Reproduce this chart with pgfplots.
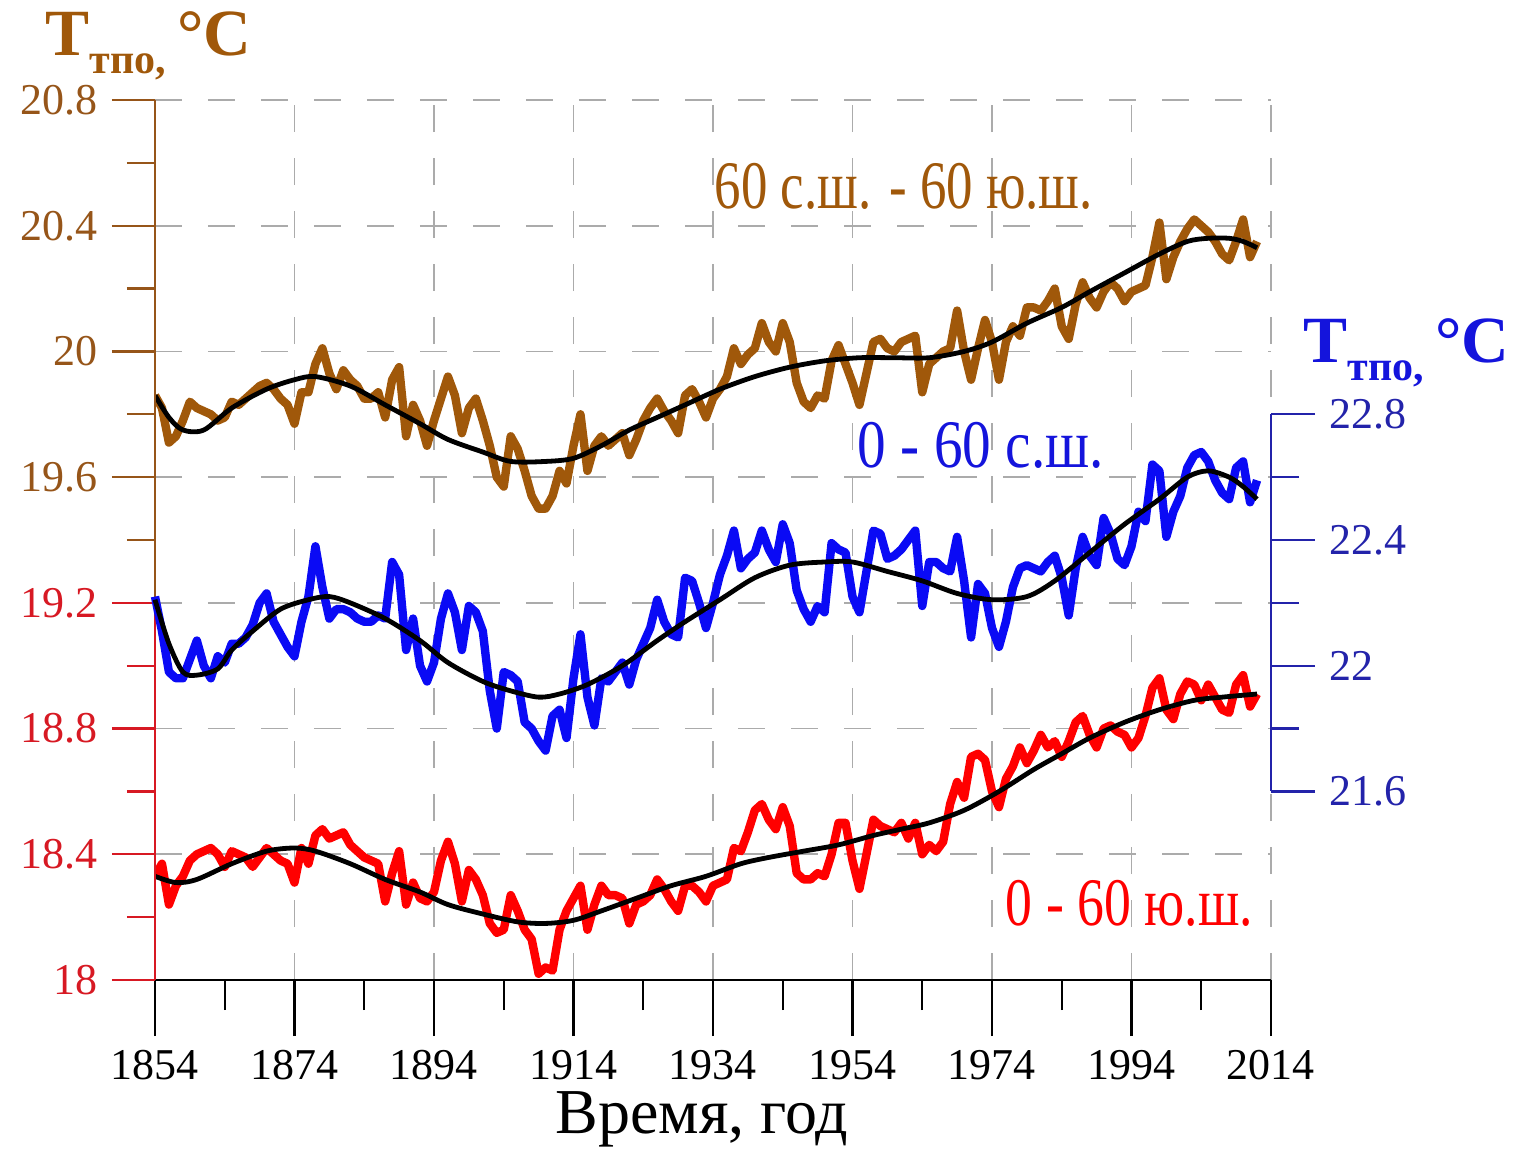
\documentclass[border=0pt]{standalone}
\usepackage{pgfplots}
\pgfplotsset{compat=1.18}
\usepackage{pgfplotstable}
\usepackage{graphicx}
\usepackage{fontspec}
\setmainfont{Liberation Serif}
\definecolor{brownL}{RGB}{160,88,10}
\definecolor{brownT}{RGB}{150,85,25}
\definecolor{redL}{RGB}{255,0,0}
\definecolor{redT}{RGB}{215,25,35}
\definecolor{blueL}{RGB}{10,10,245}
\definecolor{blueT}{RGB}{35,35,170}
\definecolor{blueA}{RGB}{20,20,220}

\pgfplotstableread{
yr v
1854 19.86
1855 19.82
1856 19.71
1857 19.73
1858 19.78
1859 19.84
1860 19.82
1861 19.81
1862 19.80
1863 19.78
1864 19.79
1865 19.84
1866 19.83
1867 19.85
1868 19.87
1869 19.89
1870 19.90
1871 19.88
1872 19.85
1873 19.83
1874 19.77
1875 19.87
1876 19.87
1877 19.96
1878 20.01
1879 19.93
1880 19.88
1881 19.94
1882 19.91
1883 19.89
1884 19.85
1885 19.85
1886 19.87
1887 19.79
1888 19.91
1889 19.95
1890 19.73
1891 19.83
1892 19.78
1893 19.70
1894 19.78
1895 19.85
1896 19.92
1897 19.86
1898 19.74
1899 19.82
1900 19.85
1901 19.78
1902 19.70
1903 19.60
1904 19.57
1905 19.73
1906 19.69
1907 19.62
1908 19.54
1909 19.50
1910 19.50
1911 19.54
1912 19.62
1913 19.58
1914 19.70
1915 19.80
1916 19.62
1917 19.70
1918 19.73
1919 19.70
1920 19.72
1921 19.74
1922 19.67
1923 19.72
1924 19.78
1925 19.82
1926 19.85
1927 19.81
1928 19.78
1929 19.74
1930 19.86
1931 19.88
1932 19.84
1933 19.79
1934 19.85
1935 19.88
1936 19.92
1937 20.01
1938 19.96
1939 19.99
1940 20.01
1941 20.09
1942 20.03
1943 20.00
1944 20.09
1945 20.03
1946 19.90
1947 19.84
1948 19.82
1949 19.86
1950 19.85
1951 19.97
1952 20.02
1953 19.96
1954 19.90
1955 19.83
1956 19.93
1957 20.03
1958 20.04
1959 20.01
1960 20.00
1961 20.03
1962 20.04
1963 20.05
1964 19.87
1965 19.96
1966 19.98
1967 20.00
1968 20.01
1969 20.13
1970 20.00
1971 19.91
1972 20.01
1973 20.10
1974 20.03
1975 19.91
1976 20.03
1977 20.08
1978 20.05
1979 20.14
1980 20.14
1981 20.13
1982 20.16
1983 20.20
1984 20.08
1985 20.04
1986 20.15
1987 20.22
1988 20.17
1989 20.14
1990 20.19
1991 20.22
1992 20.20
1993 20.16
1994 20.19
1995 20.20
1996 20.21
1997 20.30
1998 20.41
1999 20.23
2000 20.30
2001 20.35
2002 20.39
2003 20.42
2004 20.40
2005 20.38
2006 20.35
2007 20.31
2008 20.29
2009 20.35
2010 20.42
2011 20.30
2012 20.35
}\brownraw

\pgfplotstableread{
yr v
1854 19.86
1856 19.79
1858 19.75
1861 19.75
1865 19.82
1870 19.88
1874 19.91
1877 19.92
1882 19.89
1887 19.83
1892 19.77
1896 19.72
1901 19.68
1905 19.65
1910 19.65
1914 19.66
1918 19.70
1922 19.75
1926 19.79
1930 19.83
1935 19.88
1940 19.92
1945 19.95
1950 19.97
1955 19.98
1960 19.98
1965 19.98
1970 20.00
1974 20.03
1979 20.09
1984 20.14
1988 20.19
1993 20.25
1998 20.31
2002 20.35
2005 20.36
2008 20.36
2010 20.35
2012 20.33
}\brownsm

\pgfplotstableread{
yr v
1854 22.22
1855 22.11
1856 21.98
1857 21.96
1858 21.96
1859 22.02
1860 22.08
1861 22.00
1862 21.96
1863 22.03
1864 22.01
1865 22.07
1866 22.07
1867 22.09
1868 22.13
1869 22.20
1870 22.23
1871 22.14
1872 22.10
1873 22.06
1874 22.03
1875 22.14
1876 22.22
1877 22.38
1878 22.25
1879 22.15
1880 22.18
1881 22.18
1882 22.17
1883 22.15
1884 22.14
1885 22.14
1886 22.16
1887 22.15
1888 22.33
1889 22.29
1890 22.05
1891 22.15
1892 22.00
1893 21.95
1894 22.01
1895 22.15
1896 22.23
1897 22.17
1898 22.05
1899 22.19
1900 22.17
1901 22.11
1902 21.92
1903 21.80
1904 21.98
1905 21.97
1906 21.95
1907 21.82
1908 21.80
1909 21.76
1910 21.73
1911 21.84
1912 21.86
1913 21.77
1914 21.96
1915 22.10
1916 21.90
1917 21.81
1918 21.96
1919 21.95
1920 21.98
1921 22.01
1922 21.94
1923 22.02
1924 22.07
1925 22.12
1926 22.21
1927 22.14
1928 22.10
1929 22.09
1930 22.28
1931 22.27
1932 22.20
1933 22.12
1934 22.20
1935 22.29
1936 22.35
1937 22.43
1938 22.31
1939 22.34
1940 22.36
1941 22.43
1942 22.37
1943 22.33
1944 22.45
1945 22.39
1946 22.24
1947 22.18
1948 22.14
1949 22.19
1950 22.17
1951 22.39
1952 22.37
1953 22.36
1954 22.22
1955 22.17
1956 22.30
1957 22.43
1958 22.42
1959 22.34
1960 22.35
1961 22.37
1962 22.40
1963 22.43
1964 22.19
1965 22.33
1966 22.33
1967 22.31
1968 22.30
1969 22.41
1970 22.27
1971 22.09
1972 22.26
1973 22.23
1974 22.12
1975 22.06
1976 22.14
1977 22.25
1978 22.31
1979 22.32
1980 22.31
1981 22.30
1982 22.33
1983 22.35
1984 22.28
1985 22.16
1986 22.31
1987 22.41
1988 22.35
1989 22.32
1990 22.47
1991 22.42
1992 22.34
1993 22.32
1994 22.38
1995 22.49
1996 22.46
1997 22.64
1998 22.62
1999 22.41
2000 22.49
2001 22.54
2002 22.63
2003 22.67
2004 22.68
2005 22.65
2006 22.59
2007 22.55
2008 22.53
2009 22.63
2010 22.65
2011 22.52
2012 22.59
}\blueraw

\pgfplotstableread{
yr v
1854 22.21
1856 22.07
1858 21.98
1860 21.97
1863 21.99
1865 22.05
1868 22.11
1872 22.18
1876 22.21
1879 22.22
1882 22.20
1887 22.15
1892 22.08
1896 22.01
1901 21.95
1905 21.92
1909 21.90
1912 21.91
1916 21.94
1921 22.00
1926 22.08
1930 22.14
1935 22.21
1940 22.28
1945 22.32
1950 22.33
1954 22.33
1959 22.30
1964 22.27
1969 22.23
1974 22.21
1979 22.22
1983 22.27
1988 22.36
1993 22.45
1998 22.53
2002 22.60
2005 22.62
2008 22.60
2010 22.57
2012 22.53
}\bluesm

\pgfplotstableread{
yr v
1854 18.33
1855 18.37
1856 18.24
1857 18.30
1858 18.33
1859 18.38
1860 18.40
1861 18.41
1862 18.42
1863 18.40
1864 18.36
1865 18.41
1866 18.40
1867 18.39
1868 18.36
1869 18.39
1870 18.42
1871 18.40
1872 18.38
1873 18.37
1874 18.31
1875 18.42
1876 18.37
1877 18.46
1878 18.48
1879 18.45
1880 18.46
1881 18.47
1882 18.43
1883 18.41
1884 18.39
1885 18.38
1886 18.37
1887 18.25
1888 18.34
1889 18.41
1890 18.24
1891 18.31
1892 18.26
1893 18.25
1894 18.28
1895 18.38
1896 18.44
1897 18.37
1898 18.25
1899 18.35
1900 18.32
1901 18.27
1902 18.18
1903 18.15
1904 18.16
1905 18.27
1906 18.22
1907 18.16
1908 18.13
1909 18.02
1910 18.04
1911 18.03
1912 18.16
1913 18.22
1914 18.26
1915 18.30
1916 18.16
1917 18.24
1918 18.30
1919 18.27
1920 18.27
1921 18.26
1922 18.18
1923 18.24
1924 18.25
1925 18.27
1926 18.32
1927 18.29
1928 18.25
1929 18.22
1930 18.30
1931 18.30
1932 18.28
1933 18.25
1934 18.30
1935 18.31
1936 18.32
1937 18.42
1938 18.41
1939 18.47
1940 18.54
1941 18.56
1942 18.51
1943 18.48
1944 18.55
1945 18.49
1946 18.34
1947 18.32
1948 18.32
1949 18.34
1950 18.33
1951 18.40
1952 18.50
1953 18.50
1954 18.38
1955 18.29
1956 18.40
1957 18.51
1958 18.49
1959 18.48
1960 18.47
1961 18.50
1962 18.45
1963 18.50
1964 18.40
1965 18.43
1966 18.41
1967 18.44
1968 18.56
1969 18.63
1970 18.58
1971 18.71
1972 18.72
1973 18.70
1974 18.60
1975 18.55
1976 18.64
1977 18.68
1978 18.74
1979 18.69
1980 18.73
1981 18.78
1982 18.74
1983 18.76
1984 18.71
1985 18.76
1986 18.82
1987 18.84
1988 18.78
1989 18.74
1990 18.80
1991 18.81
1992 18.79
1993 18.78
1994 18.74
1995 18.77
1996 18.84
1997 18.93
1998 18.96
1999 18.86
2000 18.83
2001 18.91
2002 18.95
2003 18.94
2004 18.89
2005 18.94
2006 18.90
2007 18.86
2008 18.85
2009 18.94
2010 18.97
2011 18.87
2012 18.91
}\redraw

\pgfplotstableread{
yr v
1854 18.33
1857 18.31
1860 18.32
1865 18.37
1870 18.41
1874 18.42
1877 18.41
1882 18.37
1887 18.32
1892 18.28
1896 18.24
1901 18.21
1906 18.185
1910 18.18
1914 18.19
1918 18.22
1923 18.26
1928 18.30
1933 18.33
1938 18.37
1942 18.39
1947 18.41
1952 18.43
1957 18.46
1961 18.48
1965 18.50
1970 18.54
1975 18.60
1980 18.67
1984 18.72
1988 18.77
1993 18.82
1998 18.86
2003 18.89
2007 18.90
2012 18.91
}\redsm

\pgfplotsset{
  base/.style={
    scale only axis, width=279pt, height=220pt,
    xmin=1854, xmax=2014,
    tick label style={font=\fontsize{11}{13}\selectfont},
    /pgf/number format/assume math mode=true,
    /pgf/number format/1000 sep={},
    tick align=outside,
  },
  rawline/.style={line width=2.1pt, line join=round},
  smline/.style={black, line width=1.2pt, smooth},
}

\newcommand{\Ttpo}{{\fontsize{16.5}{20}\selectfont\bfseries T\raisebox{-4.5pt}{\fontsize{10.5}{12}\selectfont тпо,}\,°C}}

\begin{document}
\begin{tikzpicture}
% main axis: grid, x axis, brown and red series
\begin{axis}[base, ymin=18, ymax=20.8,
  axis x line*=bottom, axis y line*=left,
  x axis line style={-, black, line width=0.6pt},
  y axis line style={draw=none},
  xtick={1854,1874,1894,1914,1934,1954,1974,1994,2014},
  minor xtick={1864,1884,1904,1924,1944,1964,1984,2004},
  ytick={18,18.4,18.8,19.2,19.6,20,20.4,20.8},
  yticklabels={}, ytick style={draw=none},
  major tick length=14pt, minor tick length=7.5pt,
  xtick style={black, line width=0.6pt},
  xmajorgrids, ymajorgrids,
  major grid style={black!33, line width=0.45pt, dash pattern=on 6.75pt off 6.5pt},
  xlabel={Время, год},
  xlabel style={font=\fontsize{16}{19}\selectfont, at={(axis description cs:0.49,0)}, anchor=base, yshift=-38.25pt},
  ]
  \addplot[brownL, rawline] table[x=yr, y=v] {\brownraw};
  \addplot[smline] table[x=yr, y=v] {\brownsm};
  \addplot[redL, rawline] table[x=yr, y=v] {\redraw};
  \addplot[smline] table[x=yr, y=v] {\redsm};
\end{axis}
% left axis, upper (brown) part
\begin{axis}[base, ymin=18, ymax=20.8, hide x axis, clip=false,
  axis y line*=left, y axis line style={draw=none},
  ytick={19.6,20,20.4,20.8}, minor ytick={19.4,19.8,20.2,20.6},
  major tick length=10.75pt, minor tick length=7pt,
  every tick/.append style={brownT, line width=0.6pt},
  yticklabel style={text=brownT},
  ]
  \draw[brownT, line width=0.6pt] (axis cs:1854,19.2) -- (axis cs:1854,20.8);
\end{axis}
% left axis, lower (red) part
\begin{axis}[base, ymin=18, ymax=20.8, hide x axis, clip=false,
  axis y line*=left, y axis line style={draw=none},
  ytick={18,18.4,18.8,19.2}, minor ytick={18.2,18.6,19.0},
  major tick length=10.75pt, minor tick length=7pt,
  every tick/.append style={redT, line width=0.6pt},
  yticklabel style={text=redT},
  ]
  \draw[redT, line width=0.6pt] (axis cs:1854,18) -- (axis cs:1854,19.2);
\end{axis}
% right axis (blue)
\begin{axis}[base, ymin=21.0, ymax=23.8, hide x axis, clip=false,
  axis y line*=right, y axis line style={draw=none},
  ytick={21.6,22,22.4,22.8}, minor ytick={21.8,22.2,22.6},
  major tick length=11pt, minor tick length=7pt,
  every tick/.append style={blueT, line width=0.6pt},
  yticklabel style={text=blueT},
  ]
  \addplot[blueL, rawline] table[x=yr, y=v] {\blueraw};
  \addplot[smline] table[x=yr, y=v] {\bluesm};
  \draw[blueT, line width=0.6pt] (axis cs:2014,21.6) -- (axis cs:2014,22.8);
\end{axis}
% titles
\node[anchor=base west, inner sep=0, text=brownL] at (-27.5pt,231.25pt) {\Ttpo};
\node[anchor=base west, inner sep=0, text=blueA] at (287pt,154.5pt) {\Ttpo};
% annotations
\node[anchor=base west, inner sep=0, text=brownL] at (139.75pt,193pt)
  {\resizebox{94.5pt}{\height}{\fontsize{17}{20}\selectfont 60 с.ш. - 60 ю.ш.}};
\node[anchor=base west, inner sep=0, text=blueA] at (175.5pt,128.25pt)
  {\resizebox{61.5pt}{\height}{\fontsize{17}{20}\selectfont 0 - 60 с.ш.}};
\node[anchor=base west, inner sep=0, text=redL] at (212.5pt,13.75pt)
  {\resizebox{61.75pt}{\height}{\fontsize{17}{20}\selectfont 0 - 60 ю.ш.}};
\pgfresetboundingbox
\useasboundingbox (-38.75pt,-42.25pt) rectangle (339.5pt,245pt);
\end{tikzpicture}
\end{document}
